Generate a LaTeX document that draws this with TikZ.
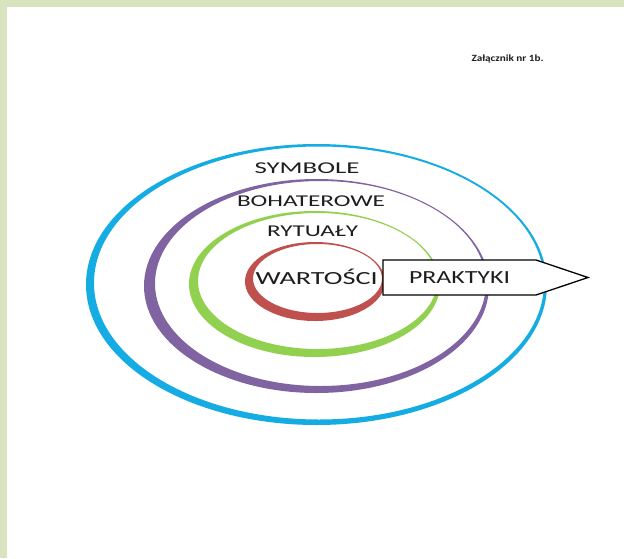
\documentclass[tikz,border=0pt]{standalone}
\usepackage{fontspec}
\setmainfont{Carlito}
\usepackage{graphicx}
\definecolor{pageframe}{RGB}{216,228,190}
\definecolor{ringblue}{RGB}{20,172,226}
\definecolor{ringpurple}{RGB}{128,100,162}
\definecolor{ringgreen}{RGB}{146,208,80}
\definecolor{ringred}{RGB}{192,80,77}
\definecolor{inktext}{RGB}{30,30,30}
\newcommand\fitw[2]{\resizebox{#1pt}{\height}{#2}}
\tikzset{
  lbl/.style={inner sep=0pt, anchor=base, text=inktext},
  ringlbl/.style={lbl, font=\fontsize{16.5}{18}\selectfont},
  corelbl/.style={lbl, font=\fontsize{18.5}{20}\selectfont},
  ring/.style={even odd rule},
  arrowbox/.style={fill=white, draw=black, line width=1.3pt, line join=miter}
}
\begin{document}
\begin{tikzpicture}[x=1pt, y=-1pt]
\useasboundingbox (0,0) rectangle (624,558);
\fill[pageframe] (0,0) rectangle (624,558);
\fill[white] (7,7) rectangle (624,558);
% rings (outer ellipse minus shifted inner ellipse)
\fill[ringblue, ring] (316.5,284.5) ellipse [x radius=230.5pt, y radius=140.5pt]
                      (319,283) ellipse [x radius=225pt, y radius=136.5pt];
\fill[ringpurple, ring] (316.5,286) ellipse [x radius=172.5pt, y radius=107pt]
                        (320.5,283.5) ellipse [x radius=165.5pt, y radius=102.5pt];
\fill[ringgreen, ring] (314.5,284) ellipse [x radius=125.5pt, y radius=73pt]
                       (317.5,281) ellipse [x radius=119.5pt, y radius=68pt];
\fill[ringred, ring] (315,281.5) ellipse [x radius=70pt, y radius=39.5pt]
                     (317.5,278.5) ellipse [x radius=64.5pt, y radius=34.5pt];
% arrow
\draw[arrowbox] (383,260) -- (536,260) -- (588,277.5) -- (536,295) -- (383,295) -- cycle;
% labels
\node[lbl, font=\fontsize{9.5}{11}\selectfont\bfseries] (zal) at (507.5,61.5) {\fitw{72}{Załącznik nr 1b.}};
\node[ringlbl] (sym) at (307,173.3) {\fitw{105}{SYMBOLE}};
\node[ringlbl] (boh) at (311,206.7) {\fitw{148}{BOHATEROWE}};
\node[ringlbl] (ryt) at (312.5,236.7) {\fitw{91}{RYTUAŁY}};
\node[corelbl] (war) at (316.7,284.7) {\fitw{122}{WARTOŚCI}};
\node[corelbl] (pra) at (459.5,283.3) {\fitw{101}{PRAKTYKI}};
\end{tikzpicture}
\end{document}
